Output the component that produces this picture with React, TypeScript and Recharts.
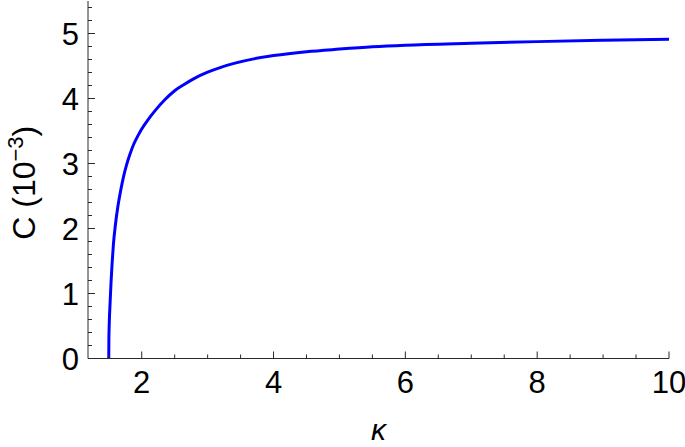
import React from 'react';
import { LineChart, Line, XAxis, YAxis } from 'recharts';

const kappa = [1.5, 1.502, 1.505, 1.51, 1.52, 1.535, 1.55, 1.57, 1.6, 1.64, 1.68, 1.72, 1.77, 1.82, 1.88, 1.95, 2.0, 2.1, 2.2, 2.35, 2.5, 2.65, 2.8, 3.0, 3.2, 3.4, 3.7, 4.0, 4.5, 5.0, 5.5, 6.0, 7.0, 8.0, 9.0, 10.0];
const cValues = [0, 0.3, 0.45, 0.62, 0.85, 1.18, 1.45, 1.75, 2.05, 2.35, 2.58, 2.78, 2.98, 3.14, 3.3, 3.44, 3.53, 3.68, 3.81, 3.98, 4.12, 4.22, 4.31, 4.405, 4.48, 4.54, 4.61, 4.66, 4.72, 4.76, 4.795, 4.82, 4.85, 4.875, 4.895, 4.91];

const xMajor = [2, 4, 6, 8, 10];
const xMinor = [1.5, 2.5, 3, 3.5, 4.5, 5, 5.5, 6.5, 7, 7.5, 8.5, 9, 9.5];
const yMajor = [0, 1, 2, 3, 4, 5];
const yMinor = [0.2, 0.4, 0.6, 0.8, 1.2, 1.4, 1.6, 1.8, 2.2, 2.4, 2.6, 2.8, 3.2, 3.4, 3.6, 3.8, 4.2, 4.4, 4.6, 4.8, 5.2, 5.4];

const xDomain = [1.185, 10];
const yDomain = [0, 5.5];

const data = kappa.map((k, i) => ({ k, c: cValues[i] }));
const xTicks = [...xMinor, ...xMajor].sort((a, b) => a - b);
const yTicks = [...yMinor, ...yMajor].sort((a, b) => a - b);

const FRAME = '#2a2a2a';
const FONT = '"Liberation Sans", Arial, sans-serif';
const TICK_FS = 31;

const isMajor = (list: number[], v: number) => list.some((m) => Math.abs(m - v) < 1e-6);

const BottomTick = (props: any) => {
  const { x, y, payload } = props;
  const major = isMajor(xMajor, payload.value);
  return (
    <g>
      <line x1={x} x2={x} y1={y} y2={y - (major ? 7 : 4)} stroke={FRAME} strokeWidth={1} />
      {major && (
        <text x={x} y={y + 34} textAnchor="middle" fontSize={TICK_FS} fontFamily={FONT} fill="#000">
          {payload.value}
        </text>
      )}
    </g>
  );
};

const TopTick = (props: any) => {
  const { x, y, payload } = props;
  const major = isMajor(xMajor, payload.value);
  return <line x1={x} x2={x} y1={y} y2={y + (major ? 7 : 4)} stroke={FRAME} strokeWidth={1} />;
};

const LeftTick = (props: any) => {
  const { x, y, payload } = props;
  const major = isMajor(yMajor, payload.value);
  return (
    <g>
      <line x1={x} x2={x + (major ? 7 : 4)} y1={y} y2={y} stroke={FRAME} strokeWidth={1} />
      {major && (
        <text x={x - 9} y={y + 11} textAnchor="end" fontSize={TICK_FS} fontFamily={FONT} fill="#000">
          {payload.value}
        </text>
      )}
    </g>
  );
};

const RightTick = (props: any) => {
  const { x, y, payload } = props;
  const major = isMajor(yMajor, payload.value);
  return <line x1={x} x2={x - (major ? 7 : 4)} y1={y} y2={y} stroke={FRAME} strokeWidth={1} />;
};

const YTitle = (props: any) => {
  const vb = props.viewBox || { x: 0, y: 0, width: 88, height: 357 };
  const cx = vb.x + 35;
  const cy = vb.y + vb.height / 2 + 3;
  return (
    <text
      x={cx}
      y={cy}
      textAnchor="middle"
      fontSize={32}
      fontFamily={FONT}
      fill="#000"
      transform={`rotate(-90, ${cx}, ${cy})`}
    >
      <tspan>C (10</tspan>
      <tspan dy={-12} fontSize={22}>−3</tspan>
      <tspan dy={12} fontSize={32}>)</tspan>
    </text>
  );
};

const XTitle = (props: any) => {
  const vb = props.viewBox || { x: 88, y: 358, width: 581, height: 88 };
  const cx = vb.x + vb.width / 2;
  const cy = vb.y + 81.5;
  return (
    <text x={cx} y={cy} textAnchor="middle" fontSize={30} fontStyle="italic" fontFamily={FONT} fill="#000">
      κ
    </text>
  );
};

export default function App() {
  return (
    <div style={{ position: 'absolute', left: 0, top: 0, width: 685, height: 447, background: '#fff' }}>
      <LineChart width={685} height={447} data={data} margin={{ top: 1, right: 16, left: 0, bottom: 0 }}>
        <XAxis
          xAxisId="bottom"
          dataKey="k"
          type="number"
          domain={xDomain}
          allowDataOverflow
          ticks={xTicks}
          interval={0}
          tickSize={0}
          tickMargin={0}
          tickLine={false}
          tick={<BottomTick />}
          axisLine={{ stroke: FRAME, strokeWidth: 1 }}
          height={88.5}
          orientation="bottom"
          label={<XTitle />}
        />
        <XAxis
          xAxisId="top"
          dataKey="k"
          type="number"
          domain={xDomain}
          allowDataOverflow
          ticks={xTicks}
          interval={0}
          tickSize={0}
          tickMargin={0}
          tickLine={false}
          tick={<TopTick />}
          axisLine={{ stroke: FRAME, strokeWidth: 1 }}
          height={0}
          orientation="top"
        />
        <YAxis
          yAxisId="left"
          type="number"
          domain={yDomain}
          allowDataOverflow
          ticks={yTicks}
          interval={0}
          tickSize={0}
          tickMargin={0}
          tickLine={false}
          tick={<LeftTick />}
          axisLine={{ stroke: FRAME, strokeWidth: 1 }}
          width={88}
          orientation="left"
          label={<YTitle />}
        />
        <YAxis
          yAxisId="right"
          type="number"
          domain={yDomain}
          allowDataOverflow
          ticks={yTicks}
          interval={0}
          tickSize={0}
          tickMargin={0}
          tickLine={false}
          tick={<RightTick />}
          axisLine={{ stroke: FRAME, strokeWidth: 1 }}
          width={0}
          orientation="right"
        />
        <Line
          xAxisId="top"
          yAxisId="right"
          dataKey="c"
          type="monotone"
          stroke="none"
          dot={false}
          activeDot={false}
          isAnimationActive={false}
        />
        <Line
          xAxisId="bottom"
          yAxisId="left"
          dataKey="c"
          type="monotone"
          stroke="#0000ff"
          strokeWidth={3}
          dot={false}
          activeDot={false}
          isAnimationActive={false}
        />
      </LineChart>
    </div>
  );
}
